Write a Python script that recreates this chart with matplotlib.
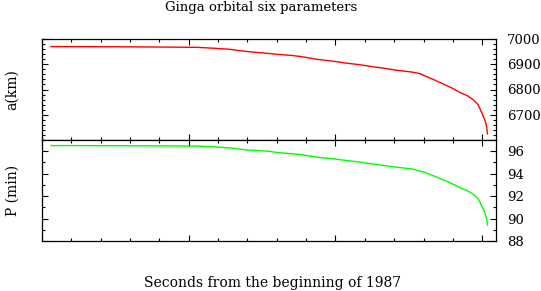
import matplotlib
matplotlib.use("Agg")
import matplotlib.pyplot as plt
from matplotlib.ticker import MultipleLocator

plt.rcParams['font.family'] = ['DejaVu Serif']

# time in units of 1e7 s from start of 1987
t_a = [0.307, 3.00, 5.28, 5.93, 6.41, 6.65, 6.95, 7.29, 7.70, 8.04, 8.49, 8.79,
       9.00, 9.41, 9.71, 9.99, 10.33, 10.77, 11.35, 11.62, 12.03, 12.61, 12.88,
       13.05, 13.33, 13.67, 13.97, 14.25, 14.48, 14.69, 14.86, 15.00, 15.10,
       15.15, 15.18]
# semi-major axis (km)
a_km = [6970, 6969, 6967, 6963, 6959, 6955, 6951, 6947, 6943, 6939, 6935, 6931,
        6927, 6919, 6915, 6911, 6905, 6899, 6889, 6885, 6877, 6869, 6863,
        6854, 6840, 6822, 6806, 6788, 6776, 6760, 6740, 6704, 6676,
        6652, 6624]

t_p = [0.307, 3.00, 5.28, 5.93, 6.41, 6.95, 7.70, 8.04, 8.79, 9.41, 9.99,
       10.77, 11.35, 12.03, 12.61, 13.05, 13.33, 13.67, 13.97, 14.25, 14.48,
       14.69, 14.86, 15.00, 15.10, 15.15, 15.18]
# orbital period (min)
p_min = [96.50, 96.49, 96.46, 96.38, 96.29, 96.12, 96.00, 95.88, 95.71, 95.46,
         95.30, 95.05, 94.84, 94.59, 94.42, 94.11, 93.82, 93.45, 93.12, 92.75,
         92.50, 92.18, 91.77, 91.04, 90.47, 89.98, 89.42]

fig = plt.figure(figsize=(5.41, 2.91), dpi=100)
W, H = 541, 291
ax1 = fig.add_axes([42 / W, 1 - 140 / H, 454 / W, 101 / H])
ax2 = fig.add_axes([42 / W, 1 - 241 / H, 454 / W, 101 / H], sharex=ax1)

ax1.plot([t * 1e7 for t in t_a], a_km, color='#ff0000', lw=1.0)
ax2.plot([t * 1e7 for t in t_p], p_min, color='#00ff00', lw=1.0)

ax1.set_xlim(0, 1.547e8)
ax1.set_ylim(6600, 7000)
ax2.set_ylim(88, 97)

ax1.xaxis.set_major_locator(MultipleLocator(5e7))
ax1.xaxis.set_minor_locator(MultipleLocator(1e7))
ax1.yaxis.set_minor_locator(MultipleLocator(20))
ax2.yaxis.set_minor_locator(MultipleLocator(1))
ax1.set_yticks([6700, 6800, 6900, 7000])
ax2.set_yticks([88, 90, 92, 94, 96])

for ax in (ax1, ax2):
    ax.tick_params(which='both', direction='in', top=True, bottom=True,
                   left=True, right=True, labelleft=False, labelright=True,
                   labelbottom=False, width=0.8, labelsize=9.5, pad=8)
    ax.tick_params(which='major', length=4.5)
    ax.tick_params(which='minor', length=2.3)
    for s in ax.spines.values():
        s.set_linewidth(0.9)

ax1.set_ylabel('a(km)', fontsize=10)
ax1.yaxis.set_label_coords(-0.05, 0.5)
ax2.set_ylabel('P (min)', fontsize=10)
ax2.yaxis.set_label_coords(-0.05, 0.5)

fig.text(261 / W, 1 - 8 / H, 'Ginga orbital six parameters', ha='center',
         va='center', fontsize=9.5)
fig.text(273 / W, 1 - 283 / H, 'Seconds from the beginning of 1987',
         ha='center', va='center', fontsize=10)

fig.savefig('out.png', dpi=100)
